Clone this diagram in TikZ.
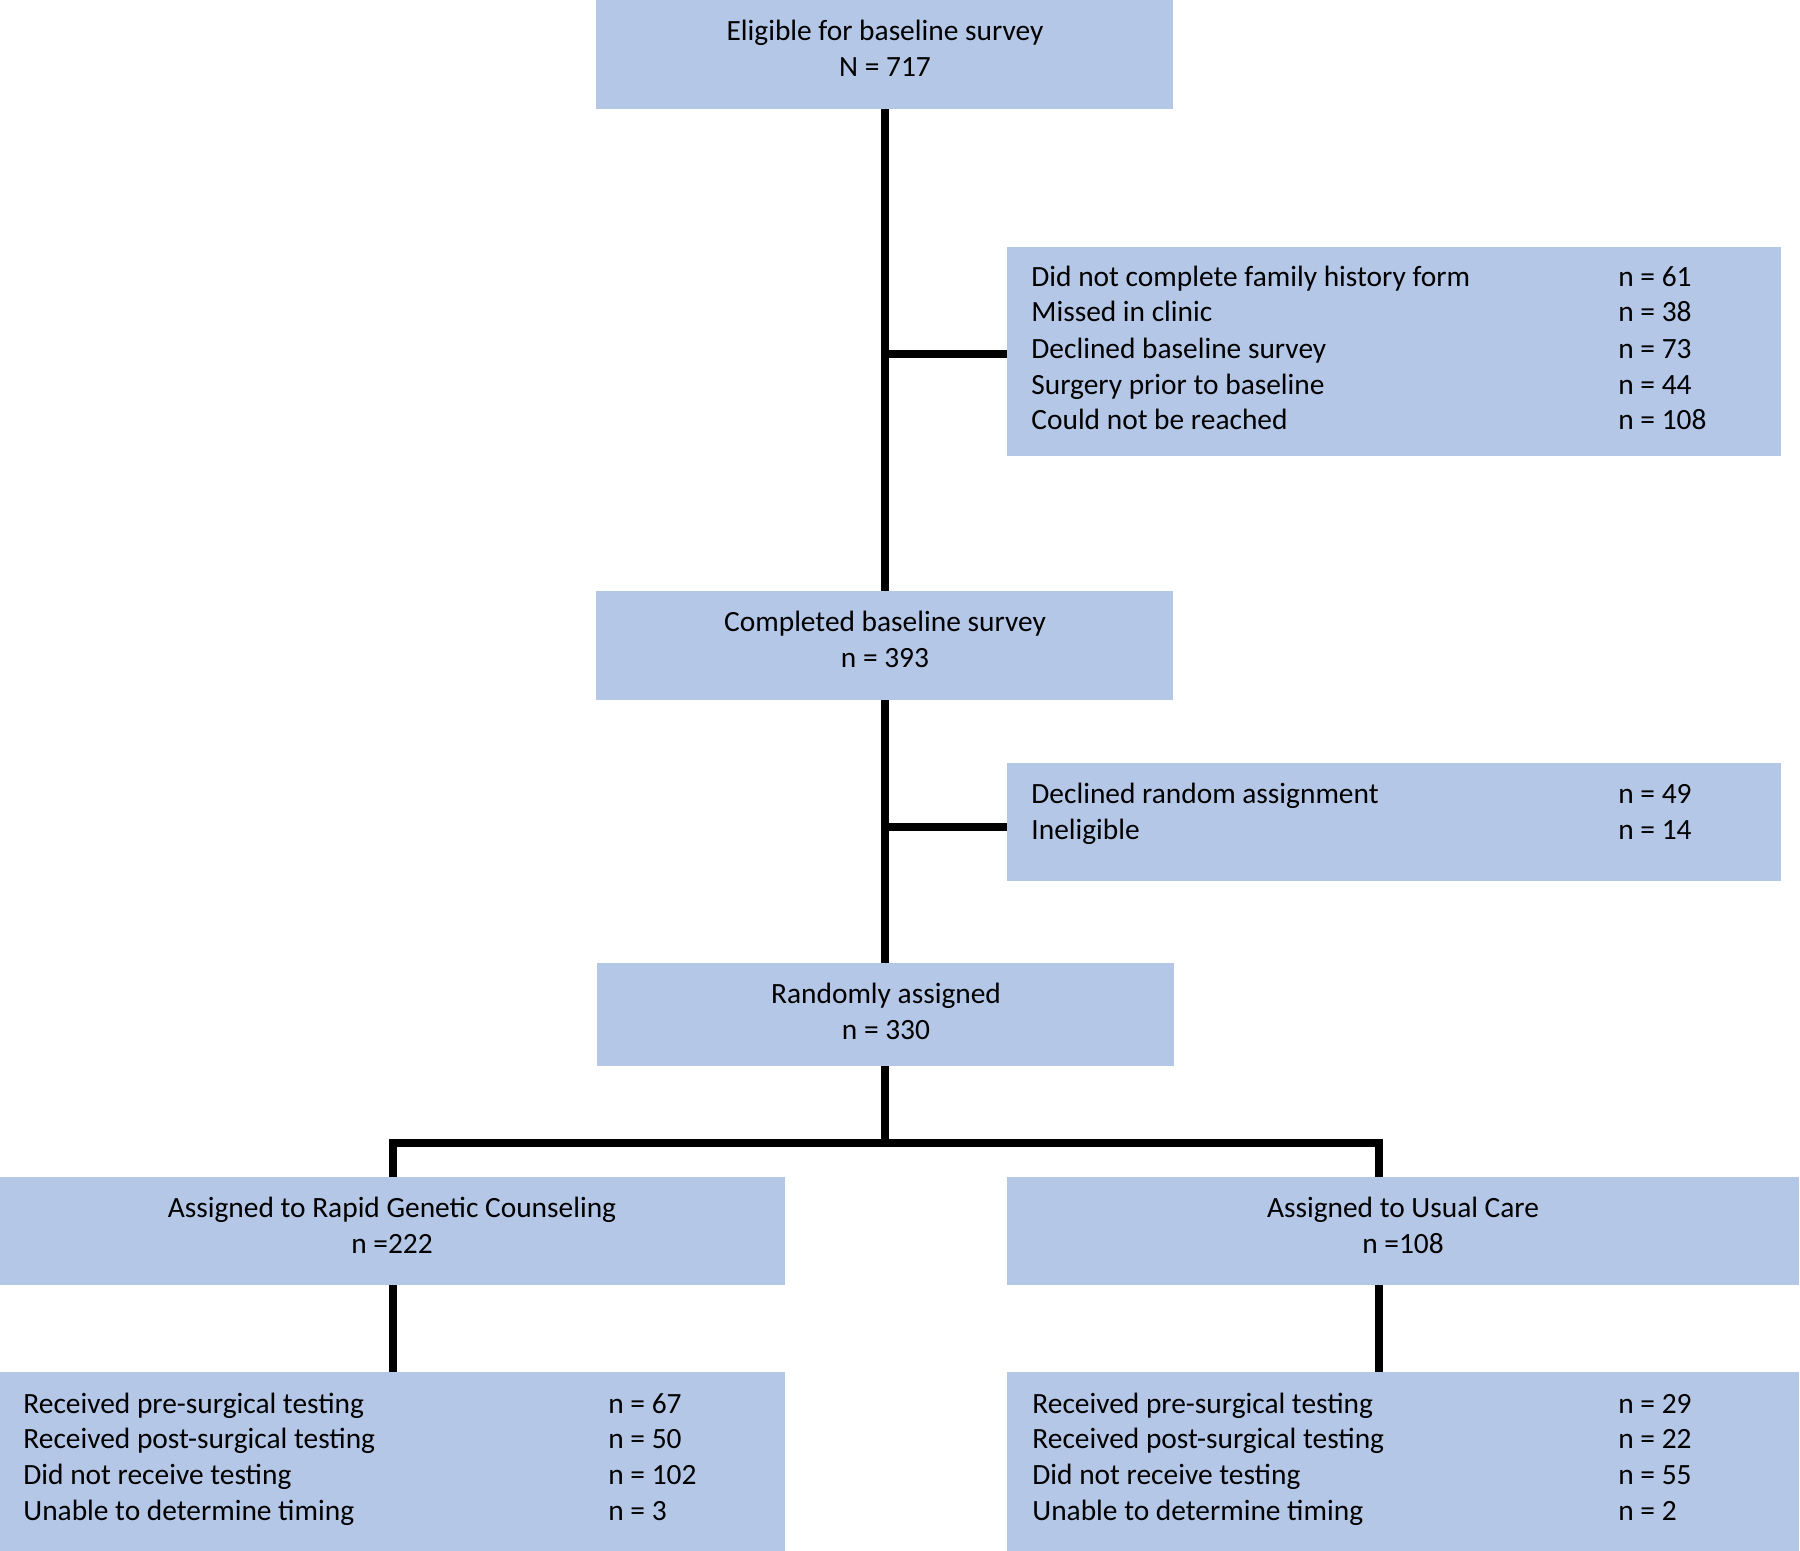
\documentclass[tikz,border=0pt]{standalone}
\usepackage{fontspec}
\setmainfont{Carlito}
\definecolor{boxblue}{HTML}{B4C7E7}
\begin{document}
\begin{tikzpicture}[x=0.5pt,y=-0.5pt,
  box/.style={fill=boxblue,draw=none,inner sep=0pt,rectangle},
  txt/.style={inner sep=0pt,anchor=base,align=center,font=\fontsize{14.7}{18}\selectfont},
  ltxt/.style={inner sep=0pt,anchor=base west,font=\fontsize{14.7}{18}\selectfont},
  conn/.style={line width=4pt,line join=miter,line cap=butt}]
\useasboundingbox (0,0) rectangle (1800,1551);
% boxes
\node[box,minimum width=288.5pt,minimum height=54.5pt] (b1) at (884.5,54.5) {};
\node[box,minimum width=288.5pt,minimum height=54.5pt] (b2) at (884.5,645.5) {};
\node[box,minimum width=288.5pt,minimum height=51.5pt] (b3) at (885.5,1014.5) {};
\node[box,minimum width=387pt,minimum height=104.5pt] (e1) at (1394,351.5) {};
\node[box,minimum width=387pt,minimum height=59pt] (e2) at (1394,822) {};
\node[box,minimum width=392.5pt,minimum height=54pt] (rl) at (392.5,1231) {};
\node[box,minimum width=396pt,minimum height=54pt] (rr) at (1403,1231) {};
\node[box,minimum width=392.5pt,minimum height=89.5pt] (ll) at (392.5,1461.5) {};
\node[box,minimum width=396pt,minimum height=89.5pt] (lr) at (1403,1461.5) {};
% centered texts (anchored at the baseline of the second line)
\node[txt] (t1) at (885,77) {Eligible for baseline survey\\N = 717};
\node[txt] (t2) at (885,668) {Completed baseline survey\\n = 393};
\node[txt] (t3) at (886,1039) {Randomly assigned\\n = 330};
\node[txt] (t4) at (392,1253) {Assigned to Rapid Genetic Counseling\\n =222};
\node[txt] (t5) at (1403,1253) {Assigned to Usual Care\\n =108};
% exclusion 1
\node[ltxt] (e1a) at (1031,287) {Did not complete family history form};
\node[ltxt] (e1b) at (1031,322) {Missed in clinic};
\node[ltxt] (e1c) at (1031,359) {Declined baseline survey};
\node[ltxt] (e1d) at (1031,395) {Surgery prior to baseline};
\node[ltxt] (e1e) at (1031,430) {Could not be reached};
\node[ltxt] (n1a) at (1618,287) {n = 61};
\node[ltxt] (n1b) at (1618,322) {n = 38};
\node[ltxt] (n1c) at (1618,359) {n = 73};
\node[ltxt] (n1d) at (1618,395) {n = 44};
\node[ltxt] (n1e) at (1618,430) {n = 108};
% exclusion 2
\node[ltxt] (e2a) at (1031,803) {Declined random assignment};
\node[ltxt] (e2b) at (1031,839) {Ineligible};
\node[ltxt] (n2a) at (1618,803) {n = 49};
\node[ltxt] (n2b) at (1618,839) {n = 14};
% bottom left
\node[ltxt] (la) at (23,1413) {Received pre-surgical testing};
\node[ltxt] (lb) at (23,1448) {Received post-surgical testing};
\node[ltxt] (lc) at (23,1484) {Did not receive testing};
\node[ltxt] (ld) at (23,1520) {Unable to determine timing};
\node[ltxt] (nla) at (608,1413) {n = 67};
\node[ltxt] (nlb) at (608,1448) {n = 50};
\node[ltxt] (nlc) at (608,1484) {n = 102};
\node[ltxt] (nld) at (608,1520) {n = 3};
% bottom right
\node[ltxt] (ra) at (1032,1413) {Received pre-surgical testing};
\node[ltxt] (rb) at (1032,1448) {Received post-surgical testing};
\node[ltxt] (rc) at (1032,1484) {Did not receive testing};
\node[ltxt] (rd) at (1032,1520) {Unable to determine timing};
\node[ltxt] (nra) at (1618,1413) {n = 29};
\node[ltxt] (nrb) at (1618,1448) {n = 22};
\node[ltxt] (nrc) at (1618,1484) {n = 55};
\node[ltxt] (nrd) at (1618,1520) {n = 2};
% connectors
\coordinate (c1) at (885,354);
\coordinate (c2) at (885,827);
\coordinate (sm) at (885,1143);
\coordinate (sl) at (393,1143);
\coordinate (sr) at (1379,1143);
\draw[conn] (b1.south -| sm) -- (b2.north -| sm);
\draw[conn] (c1) -- (c1 -| e1.west);
\draw[conn] (b2.south -| sm) -- (b3.north -| sm);
\draw[conn] (c2) -- (c2 -| e2.west);
\draw[conn] (b3.south -| sm) -- (sm);
\draw[conn] (sl |- rl.north) -- (sl) -- (sr) -- (sr |- rr.north);
\draw[conn] (sl |- rl.south) -- (sl |- ll.north);
\draw[conn] (sr |- rr.south) -- (sr |- lr.north);
\end{tikzpicture}
\end{document}
